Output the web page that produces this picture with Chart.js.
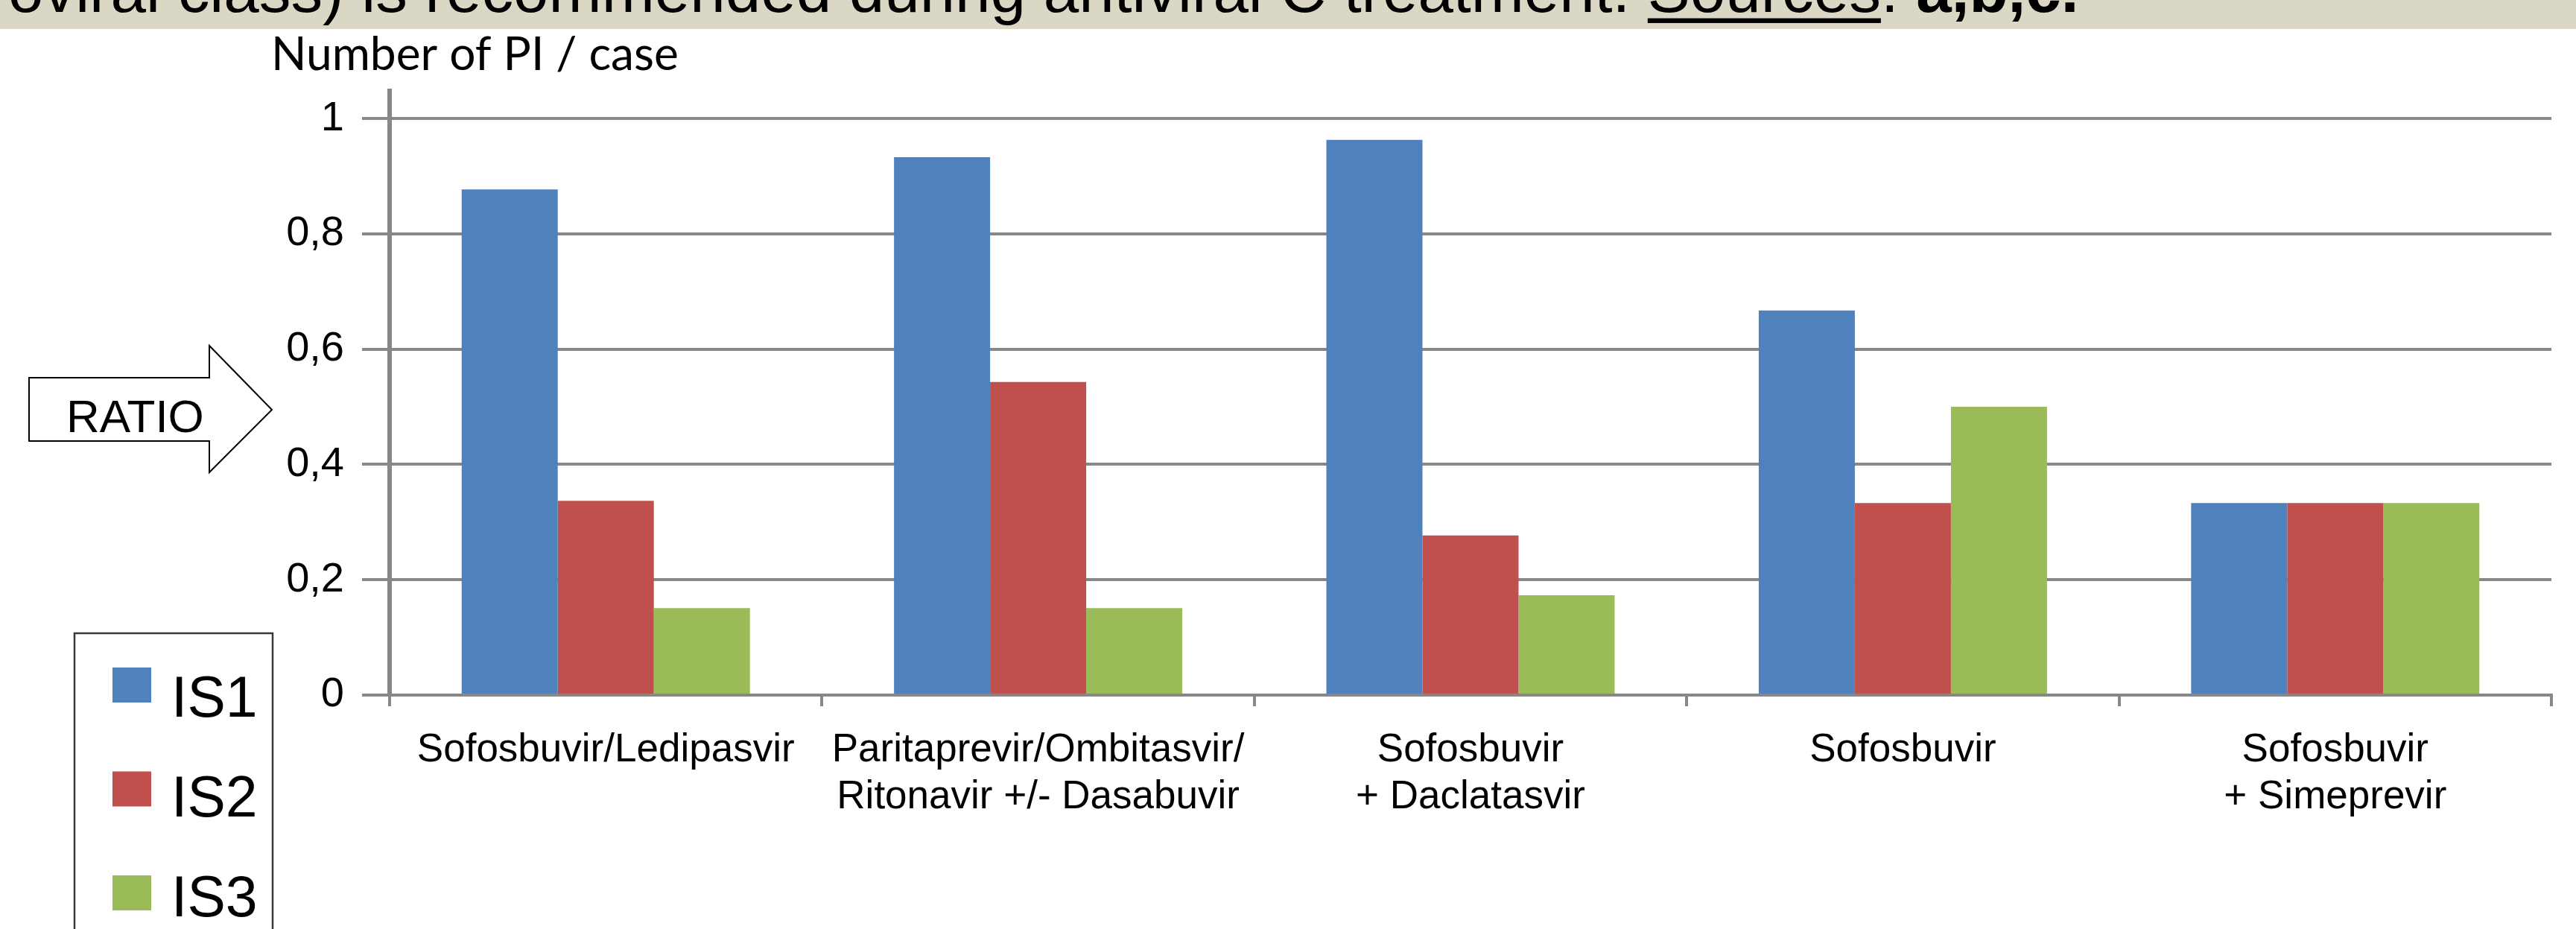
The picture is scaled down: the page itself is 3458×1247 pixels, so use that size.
<!DOCTYPE html>
<html>
<head>
<meta charset="utf-8">
<script src="https://cdn.jsdelivr.net/npm/chart.js@4.4.1/dist/chart.umd.min.js"></script>
<style>
  html, body { margin: 0; padding: 0; background: #fff; overflow: hidden; }
  canvas { display: block; }
</style>
</head>
<body>
<canvas id="chart" width="3458" height="1247"></canvas>
<script>
// data
const categories = [
  ['Sofosbuvir/Ledipasvir'],
  ['Paritaprevir/Ombitasvir/', 'Ritonavir +/- Dasabuvir'],
  ['Sofosbuvir', '+ Daclatasvir'],
  ['Sofosbuvir'],
  ['Sofosbuvir', '+ Simeprevir']
]
const seriesNames = ['IS1', 'IS2', 'IS3']
const is1 = [0.877, 0.933, 0.963, 0.667, 0.333]
const is2 = [0.337, 0.543, 0.277, 0.333, 0.333]
const is3 = [0.151, 0.151, 0.173, 0.5, 0.333]
const yTickValues = [0, 0.2, 0.4, 0.6, 0.8, 1]
const colors = ['#4f81bd', '#c0504d', '#9bbb59']

const yTitle = 'Number of PI / case'
const bannerParts = [
  { text: 'oviral class) is recommended during antiviral C treatment. ', weight: 'normal', underline: false },
  { text: 'Sources', weight: 'normal', underline: true },
  { text: ': ', weight: 'normal', underline: false },
  { text: 'a,b,c.', weight: 'bold', underline: false }
]

const ARIAL = "'Liberation Sans', Arial, sans-serif"
const gridColor = '#878787'

const decor = {
  id: 'decor',
  beforeDraw(chart) {
    const ctx = chart.ctx
    ctx.save()
    ctx.fillStyle = '#fff'
    ctx.fillRect(0, 0, chart.width, chart.height)

    // banner strip at the top
    ctx.fillStyle = '#dad7c5'
    ctx.fillRect(0, 0, chart.width, 39)
    let total = 0
    bannerParts.forEach(p => { ctx.font = `${p.weight} 100px ${ARIAL}`; total += ctx.measureText(p.text).width })
    const size = 100 * 2780 / total
    let x = 11
    ctx.fillStyle = '#000'
    ctx.textBaseline = 'alphabetic'
    bannerParts.forEach(p => {
      ctx.font = `${p.weight} ${size}px ${ARIAL}`
      ctx.fillText(p.text, x, 16)
      const w = ctx.measureText(p.text).width
      if (p.underline) ctx.fillRect(x, 16 + size * 0.1, w, size * 0.075)
      x += w
    })

    // axis title
    ctx.font = `100px Lato`
    const tw = ctx.measureText(yTitle).width
    ctx.font = `${100 * 547 / tw}px Lato`
    ctx.fillText(yTitle, 364, 94)

    // RATIO arrow
    ctx.beginPath()
    ctx.moveTo(39, 507); ctx.lineTo(281, 507); ctx.lineTo(281, 464); ctx.lineTo(365, 550)
    ctx.lineTo(281, 634); ctx.lineTo(281, 592); ctx.lineTo(39, 592); ctx.closePath()
    ctx.fillStyle = '#fff'; ctx.fill()
    ctx.strokeStyle = '#000'; ctx.lineWidth = 2; ctx.stroke()
    ctx.fillStyle = '#000'
    ctx.font = `62px ${ARIAL}`
    ctx.fillText('RATIO', 89, 580)
    ctx.restore()
  },
  afterDraw(chart) {
    const ctx = chart.ctx
    ctx.save()
    ctx.strokeStyle = '#3a3a3a'
    ctx.lineWidth = 2.5
    ctx.strokeRect(100, 850, 266, 420)
    ctx.font = `77px ${ARIAL}`
    ctx.textBaseline = 'alphabetic'
    chart.data.datasets.forEach((ds, i) => {
      ctx.fillStyle = ds.backgroundColor
      ctx.fillRect(151, 896 + i * 139.5, 52, 47)
      ctx.fillStyle = '#000'
      ctx.fillText(ds.label, 230, 962 + i * 134)
    })
    ctx.restore()
  }
}

new Chart(document.getElementById('chart'), {
  type: 'bar',
  data: {
    labels: categories,
    datasets: [is1, is2, is3].map((d, i) => ({
      label: seriesNames[i],
      data: d,
      backgroundColor: colors[i],
      borderWidth: 0,
      categoryPercentage: 0.6667,
      barPercentage: 1
    }))
  },
  options: {
    responsive: false,
    animation: false,
    devicePixelRatio: 1,
    layout: { padding: { top: 122, right: 33, bottom: 0, left: 0 } },
    plugins: { legend: { display: false }, tooltip: { enabled: false } },
    scales: {
      x: {
        z: 1,
        offset: true,
        grid: { offset: true, drawOnChartArea: false, drawTicks: true, tickLength: 15, color: gridColor, lineWidth: 4 },
        border: { display: true, color: gridColor, width: 4 },
        ticks: { color: '#000', font: { family: ARIAL, size: 53, lineHeight: 1.19 }, padding: 28, maxRotation: 0, autoSkip: false },
        afterFit: s => { s.height = 314 }
      },
      y: {
        min: 0,
        max: 1.048,
        afterBuildTicks: s => { s.ticks = yTickValues.map(v => ({ value: v })) },
        grid: { color: gridColor, lineWidth: 4, tickLength: 37 },
        border: { display: true, color: gridColor, width: 6 },
        ticks: {
          color: '#000',
          font: { family: ARIAL, size: 56 },
          padding: 24,
          callback: v => String(Math.round(v * 10) / 10).replace('.', ',')
        },
        afterFit: s => { s.width = 523 }
      }
    }
  },
  plugins: [decor]
})
</script>
</body>
</html>
